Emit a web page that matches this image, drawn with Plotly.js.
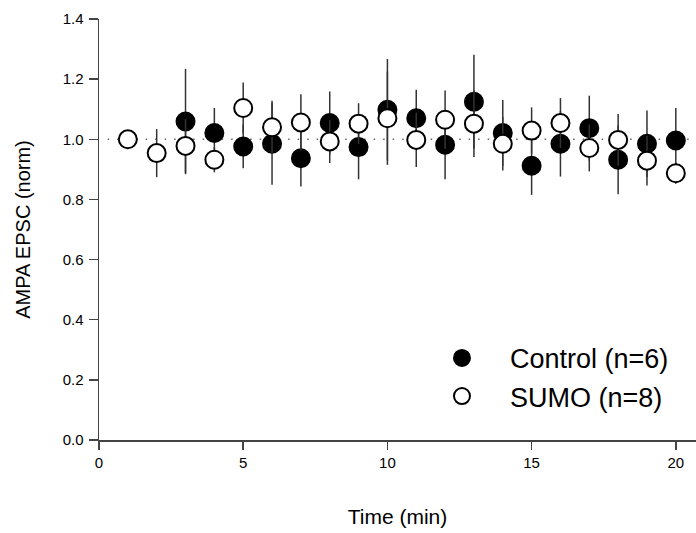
<!DOCTYPE html>
<html>
<head>
<meta charset="utf-8">
<script src="https://cdn.plot.ly/plotly-3.0.1.min.js"></script>
<style>html,body{margin:0;padding:0;background:#fff;}#chart{width:696px;height:533px;}</style>
</head>
<body>
<div id="chart"></div>
<script>
// Time points (min)
const timeMin = [1,2,3,4,5,6,7,8,9,10,11,12,13,14,15,16,17,18,19,20];
// Control (n=6): mean and SEM
const controlTime = [3,4,5,6,7,8,9,10,11,12,13,14,15,16,17,18,19,20];
const controlMean = [1.059,1.021,0.976,0.985,0.937,1.054,0.974,1.098,1.070,0.982,1.125,1.021,0.912,0.985,1.037,0.932,0.985,0.996];
const controlSem  = [0.175,0.083,0.072,0.136,0.094,0.105,0.107,0.169,0.095,0.115,0.156,0.110,0.097,0.109,0.108,0.115,0.111,0.108];
// SUMO (n=8): mean and SEM
const sumoMean = [1.000,0.954,0.978,0.932,1.104,1.040,1.056,0.993,1.052,1.070,0.998,1.065,1.052,0.985,1.029,1.054,0.971,0.998,0.929,0.887];
const sumoSem  = [0.000,0.080,0.090,0.042,0.085,0.088,0.094,0.072,0.068,0.155,0.090,0.097,0.111,0.089,0.077,0.083,0.078,0.086,0.083,0.035];

const xTicks = [0,5,10,15,20];
const yTicks = [0,0.2,0.4,0.6,0.8,1.0,1.2,1.4];

const font = "Liberation Sans, Arial, sans-serif";
const axisColor = "#444";

const traces = [
  {
    x: controlTime, y: controlMean, type: "scatter", mode: "markers",
    name: "Control (n=6)",
    marker: {symbol: "circle", size: 18, color: "#000", line: {color: "#000", width: 2}},
    error_y: {type: "data", array: controlSem, visible: true, color: "#333", thickness: 1.5, width: 0},
    cliponaxis: false
  },
  {
    x: timeMin, y: sumoMean, type: "scatter", mode: "markers",
    name: "SUMO (n=8)",
    marker: {symbol: "circle", size: 18, color: "#fff", line: {color: "#000", width: 2}},
    error_y: {type: "data", array: sumoSem, visible: true, color: "#333", thickness: 1.5, width: 0},
    cliponaxis: false
  }
];

const layout = {
  width: 696, height: 533,
  margin: {l: 99, r: 0, t: 19, b: 93},
  paper_bgcolor: "#fff", plot_bgcolor: "#fff",
  font: {family: font, color: "#000"},
  showlegend: true,
  legend: {
    x: 0.5276, y: 0.252, xanchor: "left", yanchor: "top",
    font: {size: 27, family: font, color: "#000"},
    bgcolor: "rgba(0,0,0,0)", itemwidth: 86, tracegroupgap: 0
  },
  xaxis: {
    range: [0, 20.7], tickvals: xTicks, ticktext: xTicks.map(String),
    showgrid: false, zeroline: false, showline: true, linecolor: axisColor, linewidth: 1.5,
    ticks: "outside", ticklen: 8, tickwidth: 1.5, tickcolor: axisColor,
    tickfont: {size: 15, family: font, color: "#000"},
    title: {text: "Time (min)", font: {size: 21, family: font, color: "#000"}, standoff: 40}
  },
  yaxis: {
    range: [0, 1.4], tickvals: yTicks, tickformat: ".1f",
    showgrid: false, zeroline: false, showline: true, linecolor: axisColor, linewidth: 1.5,
    ticks: "outside", ticklen: 9, tickwidth: 1.5, tickcolor: axisColor,
    tickfont: {size: 15, family: font, color: "#000"}, ticklabelstandoff: 2,
    title: {text: "AMPA EPSC (norm)", font: {size: 20, family: font, color: "#000"}, standoff: 26}
  },
  shapes: [{
    type: "line", xref: "x", yref: "y", x0: 0.3, x1: 20.7, y0: 1.0, y1: 1.0,
    line: {color: "#666", width: 1.5, dash: "1.5px,8px"}, layer: "below"
  }]
};

Plotly.newPlot("chart", traces, layout, {displayModeBar: false, staticPlot: true});
</script>
</body>
</html>
